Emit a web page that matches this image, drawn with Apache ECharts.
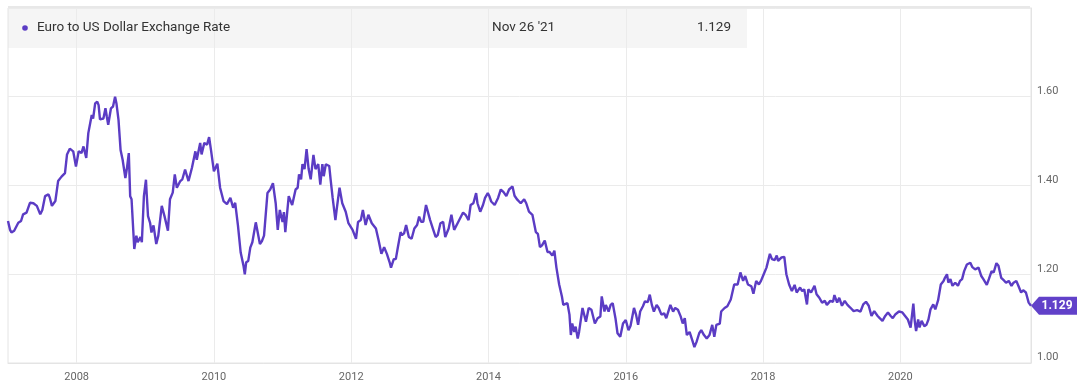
<!DOCTYPE html>
<html><head><meta charset="utf-8">
<script src="https://cdn.jsdelivr.net/npm/echarts@6/dist/echarts.min.js"></script>
<style>html,body{margin:0;padding:0;background:#fff}#c{width:1080px;height:384px}</style>
</head><body><div id="c"></div>
<script>
const seriesName = 'Euro to US Dollar Exchange Rate';
const lastDateLabel = "Nov 26 '21";
const yearTicks = [2008, 2010, 2012, 2014, 2016, 2018, 2020];
// time in decimal years
const times = [
2007.00,2007.03,2007.05,2007.09,2007.15,2007.19,2007.22,2007.27,2007.32,2007.37,2007.42,2007.47,2007.50,2007.54,2007.59,2007.61,2007.64,2007.69,2007.73,2007.78,2007.83,2007.86,2007.90,2007.95,2007.99,
2008.03,2008.07,2008.10,2008.14,2008.17,2008.22,2008.24,2008.27,2008.30,2008.32,2008.34,2008.39,2008.42,2008.44,2008.46,2008.50,2008.53,2008.56,2008.58,2008.61,2008.64,2008.67,2008.71,2008.73,2008.76,2008.78,2008.80,2008.84,2008.87,2008.89,2008.93,2008.95,2008.98,
2009.01,2009.02,2009.04,2009.07,2009.09,2009.12,2009.16,2009.19,2009.24,2009.28,2009.33,2009.36,2009.40,2009.43,2009.46,2009.51,2009.54,2009.58,2009.63,2009.68,2009.73,2009.75,2009.80,2009.82,2009.86,2009.90,2009.93,2009.96,
2010.00,2010.05,2010.09,2010.14,2010.19,2010.24,2010.28,2010.31,2010.35,2010.39,2010.43,2010.45,2010.47,2010.50,2010.53,2010.56,2010.61,2010.63,2010.67,2010.70,2010.73,2010.78,2010.82,2010.86,2010.90,2010.93,2010.96,
2011.00,2011.02,2011.04,2011.09,2011.14,2011.19,2011.22,2011.24,2011.27,2011.29,2011.32,2011.35,2011.38,2011.41,2011.45,2011.48,2011.52,2011.55,2011.58,2011.60,2011.63,2011.68,2011.70,2011.73,2011.75,2011.77,2011.79,2011.83,2011.87,2011.92,2011.96,
2012.02,2012.07,2012.10,2012.14,2012.17,2012.21,2012.25,2012.30,2012.36,2012.40,2012.44,2012.48,2012.52,2012.56,2012.58,2012.62,2012.65,2012.68,2012.72,2012.74,2012.77,2012.80,2012.84,2012.88,2012.92,2012.96,2012.99,
2013.02,2013.05,2013.09,2013.11,2013.15,2013.19,2013.23,2013.26,2013.30,2013.34,2013.37,2013.42,2013.46,2013.50,2013.55,2013.60,2013.63,2013.67,2013.71,2013.74,2013.78,2013.82,2013.84,2013.88,2013.92,2013.95,2013.99,
2014.01,2014.04,2014.09,2014.14,2014.18,2014.22,2014.26,2014.30,2014.35,2014.38,2014.42,2014.47,2014.52,2014.55,2014.59,2014.64,2014.69,2014.72,2014.75,2014.78,2014.82,2014.86,2014.89,2014.93,2014.96,2014.99,
2015.03,2015.07,2015.09,2015.15,2015.18,2015.20,2015.22,2015.25,2015.27,2015.30,2015.32,2015.37,2015.42,2015.46,2015.50,2015.55,2015.59,2015.63,2015.65,2015.69,2015.71,2015.75,2015.78,2015.81,2015.85,2015.88,2015.92,2015.96,
2016.00,2016.04,2016.07,2016.12,2016.15,2016.18,2016.21,2016.25,2016.28,2016.32,2016.35,2016.38,2016.41,2016.45,2016.48,2016.52,2016.56,2016.59,2016.62,2016.65,2016.69,2016.72,2016.76,2016.80,2016.83,2016.86,2016.89,2016.93,2016.97,
2017.00,2017.03,2017.07,2017.10,2017.14,2017.18,2017.22,2017.26,2017.29,2017.32,2017.37,2017.39,2017.44,2017.48,2017.53,2017.58,2017.63,2017.67,2017.71,2017.74,2017.78,2017.83,2017.86,2017.90,2017.94,2017.97,
2018.01,2018.05,2018.10,2018.13,2018.17,2018.20,2018.22,2018.27,2018.31,2018.34,2018.38,2018.42,2018.46,2018.49,2018.54,2018.57,2018.60,2018.64,2018.66,2018.70,2018.75,2018.78,2018.82,2018.86,2018.90,2018.93,2018.98,
2019.02,2019.04,2019.08,2019.11,2019.15,2019.19,2019.23,2019.27,2019.32,2019.37,2019.42,2019.46,2019.50,2019.54,2019.58,2019.62,2019.67,2019.70,2019.74,2019.78,2019.82,2019.86,2019.89,2019.93,2019.98,
2020.03,2020.07,2020.11,2020.15,2020.19,2020.21,2020.23,2020.26,2020.28,2020.31,2020.35,2020.38,2020.41,2020.44,2020.48,2020.51,2020.55,2020.59,2020.63,2020.65,2020.68,2020.70,2020.73,2020.76,2020.80,2020.84,2020.87,2020.90,2020.93,2020.97,
2021.02,2021.05,2021.09,2021.14,2021.18,2021.21,2021.26,2021.29,2021.33,2021.36,2021.40,2021.43,2021.47,2021.51,2021.54,2021.58,2021.62,2021.65,2021.69,2021.72,2021.76,2021.79,2021.83,2021.87,2021.904
];
const rates = [
1.320,1.300,1.294,1.298,1.316,1.320,1.335,1.339,1.361,1.360,1.354,1.335,1.345,1.376,1.380,1.372,1.354,1.365,1.410,1.420,1.428,1.470,1.483,1.477,1.443,
1.477,1.473,1.488,1.462,1.518,1.559,1.551,1.585,1.589,1.581,1.549,1.551,1.574,1.555,1.537,1.574,1.578,1.600,1.585,1.548,1.480,1.458,1.417,1.436,1.473,1.376,1.369,1.257,1.287,1.272,1.284,1.272,1.376,
1.413,1.383,1.331,1.316,1.294,1.310,1.268,1.287,1.354,1.331,1.298,1.369,1.384,1.425,1.395,1.410,1.414,1.436,1.410,1.440,1.477,1.458,1.496,1.470,1.496,1.492,1.509,1.477,
1.432,1.449,1.395,1.365,1.358,1.372,1.350,1.361,1.310,1.249,1.220,1.200,1.227,1.230,1.260,1.272,1.317,1.301,1.268,1.275,1.287,1.383,1.391,1.405,1.360,1.300,1.345,
1.318,1.340,1.295,1.376,1.356,1.391,1.395,1.425,1.414,1.448,1.437,1.482,1.437,1.414,1.469,1.437,1.448,1.402,1.448,1.421,1.448,1.444,1.414,1.372,1.368,1.322,1.348,1.395,1.360,1.341,1.315,
1.300,1.280,1.318,1.322,1.345,1.311,1.334,1.315,1.303,1.276,1.246,1.261,1.246,1.227,1.215,1.234,1.234,1.261,1.295,1.288,1.292,1.311,1.284,1.280,1.303,1.311,1.330,
1.318,1.318,1.356,1.352,1.322,1.303,1.284,1.288,1.315,1.318,1.284,1.303,1.334,1.300,1.315,1.330,1.339,1.333,1.322,1.356,1.360,1.383,1.360,1.341,1.356,1.372,1.383,
1.377,1.364,1.356,1.372,1.391,1.385,1.376,1.391,1.398,1.377,1.368,1.360,1.369,1.360,1.341,1.334,1.295,1.291,1.261,1.265,1.276,1.250,1.250,1.242,1.253,1.215,
1.177,1.150,1.131,1.135,1.109,1.063,1.089,1.070,1.082,1.055,1.070,1.124,1.093,1.124,1.120,1.089,1.101,1.105,1.150,1.116,1.131,1.116,1.131,1.135,1.101,1.067,1.059,1.089,
1.097,1.074,1.084,1.124,1.109,1.086,1.116,1.128,1.139,1.137,1.154,1.131,1.116,1.131,1.124,1.109,1.112,1.101,1.116,1.131,1.116,1.124,1.120,1.105,1.089,1.101,1.063,1.070,1.051,
1.036,1.047,1.067,1.074,1.063,1.055,1.063,1.086,1.059,1.086,1.089,1.116,1.124,1.128,1.143,1.177,1.177,1.204,1.185,1.196,1.177,1.173,1.156,1.185,1.177,1.185,
1.200,1.215,1.246,1.234,1.232,1.242,1.230,1.238,1.239,1.200,1.177,1.162,1.176,1.159,1.170,1.162,1.166,1.132,1.166,1.159,1.174,1.155,1.147,1.136,1.140,1.131,1.140,
1.138,1.153,1.136,1.147,1.129,1.140,1.131,1.125,1.117,1.119,1.116,1.132,1.138,1.129,1.106,1.117,1.106,1.101,1.095,1.106,1.114,1.106,1.101,1.110,1.116,
1.114,1.106,1.098,1.080,1.134,1.095,1.072,1.098,1.080,1.095,1.083,1.086,1.098,1.121,1.132,1.121,1.141,1.177,1.185,1.192,1.200,1.181,1.189,1.174,1.181,1.174,1.185,1.189,1.207,1.222,
1.226,1.216,1.211,1.215,1.196,1.189,1.176,1.189,1.207,1.204,1.225,1.219,1.192,1.186,1.181,1.185,1.174,1.181,1.185,1.174,1.159,1.164,1.159,1.136,1.129
];

const LINE = '#5b3cc4';
const TAG = '#6141c9';
const FONT = 'Roboto, "Noto Sans", sans-serif';
const data = times.map((t, i) => [t, rates[i]]);
const lastT = times[times.length - 1], lastV = rates[rates.length - 1];

const chart = echarts.init(document.getElementById('c'), null, {renderer: 'canvas'});
chart.setOption({
  animation: false,
  backgroundColor: '#fff',
  textStyle: {fontFamily: FONT},
  grid: {left: 8, right: 49, top: 8, bottom: 21, show: true, borderColor: '#e4e4e4', borderWidth: 1},
  graphic: [
    {type: 'rect', z: -10, shape: {x: 8, y: 8, width: 739, height: 40}, style: {fill: '#f5f5f5'}},
    {type: 'rect', z: 5, shape: {x: 8, y: 6, width: 1022, height: 2}, style: {fill: '#e8e8e8'}},
    {type: 'circle', z: 10, shape: {cx: 25, cy: 28, r: 2.8}, style: {fill: LINE}},
    {type: 'text', z: 10, x: 37, y: 28, style: {text: seriesName, fill: '#333', font: '13.5px ' + FONT, verticalAlign: 'middle', textAlign: 'left'}},
    {type: 'text', z: 10, x: 492, y: 28, style: {text: lastDateLabel, fill: '#333', font: '13.5px ' + FONT, verticalAlign: 'middle', textAlign: 'left'}},
    {type: 'text', z: 10, x: 731, y: 28, style: {text: lastV.toFixed(3), fill: '#333', font: '13.5px ' + FONT, verticalAlign: 'middle', textAlign: 'right'}}
  ],
  xAxis: {
    type: 'value', min: 'dataMin', max: 'dataMax',
    axisLine: {show: true, lineStyle: {color: '#e4e4e4'}},
    axisTick: {show: false, customValues: yearTicks},
    splitLine: {show: true, lineStyle: {color: '#ebebeb'}},
    axisLabel: {customValues: yearTicks, color: '#666', fontSize: 11, margin: 9, fontFamily: FONT, formatter: v => String(Math.round(v))}
  },
  yAxis: {
    type: 'value', position: 'right', min: 1.0, max: 1.8, interval: 0.2,
    axisLine: {show: true, lineStyle: {color: '#e4e4e4'}},
    axisTick: {show: false},
    splitLine: {show: true, lineStyle: {color: '#ebebeb'}},
    axisLabel: {showMaxLabel: false, color: '#666', fontSize: 11, margin: 6, fontFamily: FONT, verticalAlign: 'bottom', formatter: v => v.toFixed(2)}
  },
  series: [{
    name: seriesName, type: 'line', data: data, showSymbol: false, smooth: false,
    lineStyle: {color: LINE, width: 2.4}, itemStyle: {color: LINE},
    markPoint: {
      symbol: 'path://M0,9L8,0L46,0L46,18L8,18Z',
      symbolSize: [46, 18], symbolOffset: [23, 0], symbolKeepAspect: false,
      itemStyle: {color: TAG},
      label: {show: true, color: '#fff', fontWeight: 'bold', fontSize: 12, fontFamily: FONT, offset: [3, 0], formatter: p => Number(p.value).toFixed(3)},
      data: [{coord: [lastT, lastV], value: lastV}]
    }
  }]
});
</script></body></html>
